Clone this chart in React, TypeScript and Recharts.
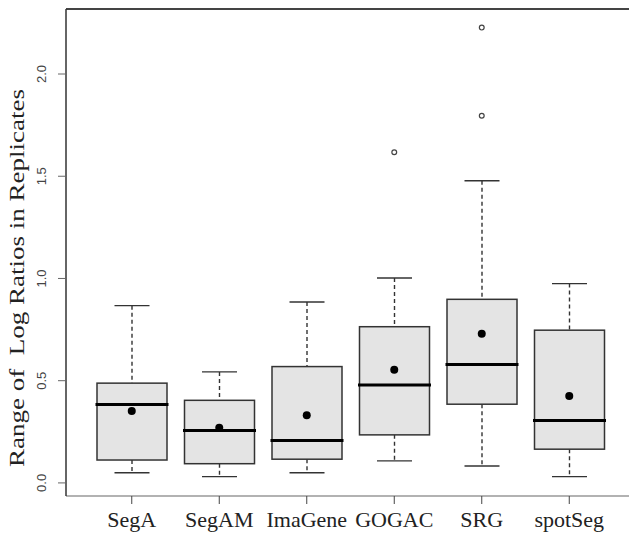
import React from "react";
import {
  ComposedChart,
  Bar,
  Scatter,
  XAxis,
  YAxis,
  ReferenceLine,
  Label,
} from "recharts";

const methods = ["SegA", "SegAM", "ImaGene", "GOGAC", "SRG", "spotSeg"];
const lowerWhisker = [0.05, 0.031, 0.05, 0.108, 0.083, 0.031];
const q1 = [0.112, 0.094, 0.116, 0.235, 0.385, 0.165];
const medians = [0.383, 0.256, 0.207, 0.479, 0.579, 0.305];
const q3 = [0.488, 0.404, 0.569, 0.764, 0.898, 0.747];
const upperWhisker = [0.867, 0.543, 0.885, 1.002, 1.478, 0.975];
const means = [0.352, 0.27, 0.331, 0.553, 0.729, 0.425];
const outlierA = [null, null, null, 1.617, 1.796, null];
const outlierB = [null, null, null, null, 2.227, null];
const yTicks = [0, 0.5, 1, 1.5, 2];

const Y_MIN = -0.064;
const Y_MAX = 2.318;

const data = methods.map((name, i) => ({
  name,
  range: [lowerWhisker[i], upperWhisker[i]],
  q1: q1[i],
  median: medians[i],
  q3: q3[i],
  mean: means[i],
  outA: outlierA[i],
  outB: outlierB[i],
}));

const BoxShape = (props: any) => {
  const { x, y, width, height, payload } = props;
  const [lo, hi] = payload.range;
  const py = (v: number) => y + (height * (hi - v)) / (hi - lo);
  const cx = x + width / 2;
  const cap = width / 4;
  const yQ1 = py(payload.q1);
  const yQ3 = py(payload.q3);
  const yMed = py(payload.median);
  const stroke = "#333";
  return (
    <g>
      <line x1={cx} x2={cx} y1={y} y2={yQ3} stroke={stroke} strokeWidth={1.4} strokeDasharray="4 3" />
      <line x1={cx} x2={cx} y1={yQ1} y2={y + height} stroke={stroke} strokeWidth={1.4} strokeDasharray="4 3" />
      <line x1={cx - cap} x2={cx + cap} y1={y} y2={y} stroke={stroke} strokeWidth={1.4} />
      <line x1={cx - cap} x2={cx + cap} y1={y + height} y2={y + height} stroke={stroke} strokeWidth={1.4} />
      <rect x={x} y={yQ3} width={width} height={yQ1 - yQ3} fill="#e4e4e4" stroke={stroke} strokeWidth={1.5} />
      <line x1={x - 1.5} x2={x + width + 1.5} y1={yMed} y2={yMed} stroke="#000" strokeWidth={3} />
    </g>
  );
};

const MeanDot = (props: any) => {
  const { cx, cy } = props;
  if (!Number.isFinite(cx) || !Number.isFinite(cy)) return <g />;
  return <circle cx={cx} cy={cy} r={4} fill="#000" />;
};

const outlierShape = (key: string) => (props: any) => {
  const { cx, cy, payload } = props;
  if (payload == null || payload[key] == null || !Number.isFinite(cy)) return <g />;
  return <circle cx={cx} cy={cy} r={2.4} fill="#fff" stroke="#444" strokeWidth={1.2} />;
};

const YTick = (props: any) => {
  const { x, y, payload } = props;
  const tx = x - 10;
  return (
    <text
      x={tx}
      y={y}
      transform={`rotate(-90 ${tx} ${y})`}
      textAnchor="middle"
      fontFamily="'Liberation Sans', Arial, sans-serif"
      fontSize={13}
      fill="#444"
    >
      {payload.value.toFixed(1)}
    </text>
  );
};

const XTick = (props: any) => {
  const { x, payload } = props;
  return (
    <text
      x={x}
      y={527}
      textAnchor="middle"
      fontFamily="'Liberation Serif', 'Times New Roman', serif"
      fontSize={22}
      fill="#222"
    >
      {payload.value}
    </text>
  );
};

export default function App() {
  return (
    <div
      style={{
        position: "absolute",
        left: 0,
        top: 0,
        width: 629,
        height: 533,
        overflow: "hidden",
        background: "#fff",
      }}
    >
      <ComposedChart
        width={634}
        height={533}
        data={data}
        margin={{ top: 9, right: 0, bottom: 0, left: 0 }}
      >
        <XAxis
          dataKey="name"
          type="category"
          padding={{ left: 22, right: 21 }}
          height={37}
          tickSize={8}
          axisLine={{ stroke: "#999", strokeWidth: 1.5 }}
          tickLine={{ stroke: "#444" }}
          tick={<XTick />}
          interval={0}
        />
        <YAxis
          type="number"
          domain={[Y_MIN, Y_MAX]}
          allowDataOverflow
          ticks={yTicks}
          width={66}
          tickSize={8}
          axisLine={{ stroke: "#333", strokeWidth: 1.5 }}
          tickLine={{ stroke: "#666" }}
          tick={<YTick />}
        >
          <Label
            content={() => (
              <text
                x={17}
                y={278}
                transform="rotate(-90 17 278)"
                textAnchor="middle"
                dominantBaseline="central"
                fontFamily="'Liberation Serif', 'Times New Roman', serif"
                fontSize={20}
                fill="#222"
                textLength={378}
                lengthAdjust="spacingAndGlyphs"
                style={{ whiteSpace: "pre" }}
              >
                Range of  Log Ratios in Replicates
              </text>
            )}
          />
        </YAxis>
        <ReferenceLine y={Y_MAX} stroke="#444" strokeWidth={2} />
        <Bar dataKey="range" barSize={70} shape={<BoxShape />} isAnimationActive={false} />
        <Scatter dataKey="mean" shape={<MeanDot />} isAnimationActive={false} />
        <Scatter dataKey="outA" shape={outlierShape("outA")} isAnimationActive={false} />
        <Scatter dataKey="outB" shape={outlierShape("outB")} isAnimationActive={false} />
      </ComposedChart>
    </div>
  );
}
